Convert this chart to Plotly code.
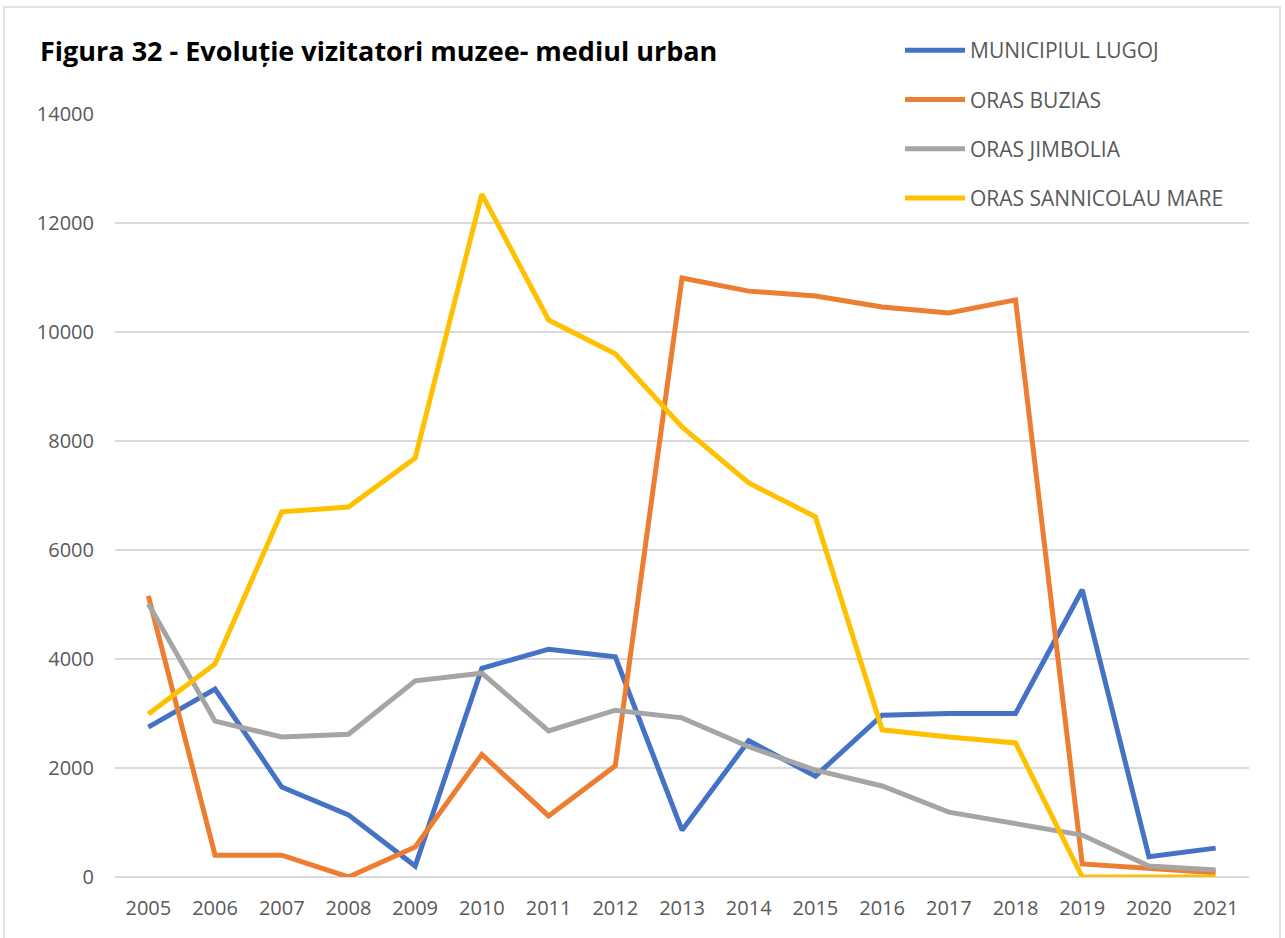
import plotly.graph_objects as go

years = [str(y) for y in range(2005, 2022)]

lugoj = [2750, 3450, 1650, 1140, 200, 3830, 4180, 4040, 860, 2500, 1850, 2970, 3000, 3000, 5270, 370, 530]
buzias = [5160, 400, 400, 0, 550, 2250, 1120, 2040, 10990, 10750, 10660, 10460, 10350, 10590, 240, 150, 80]
jimbolia = [5010, 2860, 2570, 2620, 3600, 3740, 2680, 3060, 2920, 2390, 1960, 1670, 1190, 990, 770, 200, 130]
sannicolau = [2990, 3910, 6700, 6790, 7690, 12530, 10220, 9600, 8260, 7230, 6610, 2700, 2570, 2460, 0, 0, 0]

series_names = ["MUNICIPIUL LUGOJ", "ORAS BUZIAS", "ORAS JIMBOLIA", "ORAS SANNICOLAU MARE"]
series_values = [lugoj, buzias, jimbolia, sannicolau]
colors = ["#4472C4", "#ED7D31", "#A5A5A5", "#FFC000"]

fig = go.Figure()

for name, vals, col in zip(series_names, series_values, colors):
    fig.add_trace(go.Scatter(x=years, y=vals, name=name, mode="lines",
                             line={"color": col, "width": 5},
                             legendgroup=name))

# plot area in px: left 115, right 1249, top 114, bottom 877
fig.update_layout(
    width=1285, height=938,
    margin=dict(l=115, r=36, t=114, b=61, autoexpand=False),
    plot_bgcolor="white", paper_bgcolor="white",
    font=dict(family="Open Sans", size=20, color="#595959"),
    title=dict(text="<b>Figura 32 - Evoluție vizitatori muzee- mediul urban</b>",
               font=dict(family="Open Sans", size=27, color="black"),
               x=40 / 1285, xref="container", xanchor="left",
               y=1 - 52 / 938, yref="container", yanchor="middle"),
    legend=dict(x=(900 - 115) / 1134, xanchor="left", y=1 - 30 / 938, yref="container",
                yanchor="top", traceorder="grouped", tracegroupgap=19,
                font=dict(size=21, color="#595959"), itemwidth=60),
    xaxis=dict(type="category", range=[-0.5, 16.5], showgrid=False, showline=False,
               ticks="", zeroline=False, ticklabelstandoff=17),
    yaxis=dict(range=[0, 14000], dtick=2000, tickformat="d", showgrid=True,
               gridcolor="#D9D9D9", gridwidth=1.5,
               zeroline=True, zerolinecolor="#D9D9D9", zerolinewidth=1.5,
               showline=False, ticks="", ticklabelstandoff=20),
    shapes=[dict(type="rect", xref="paper", yref="paper",
                 x0=(4 - 115) / 1134, x1=(1280 - 115) / 1134,
                 y0=-70 / 763, y1=1 + (114 - 7) / 763,
                 line=dict(color="#D9D9D9", width=1.5))],
)

fig.write_html("out.html", config={"displayModeBar": False},
               post_script="document.body.style.margin='0';")
